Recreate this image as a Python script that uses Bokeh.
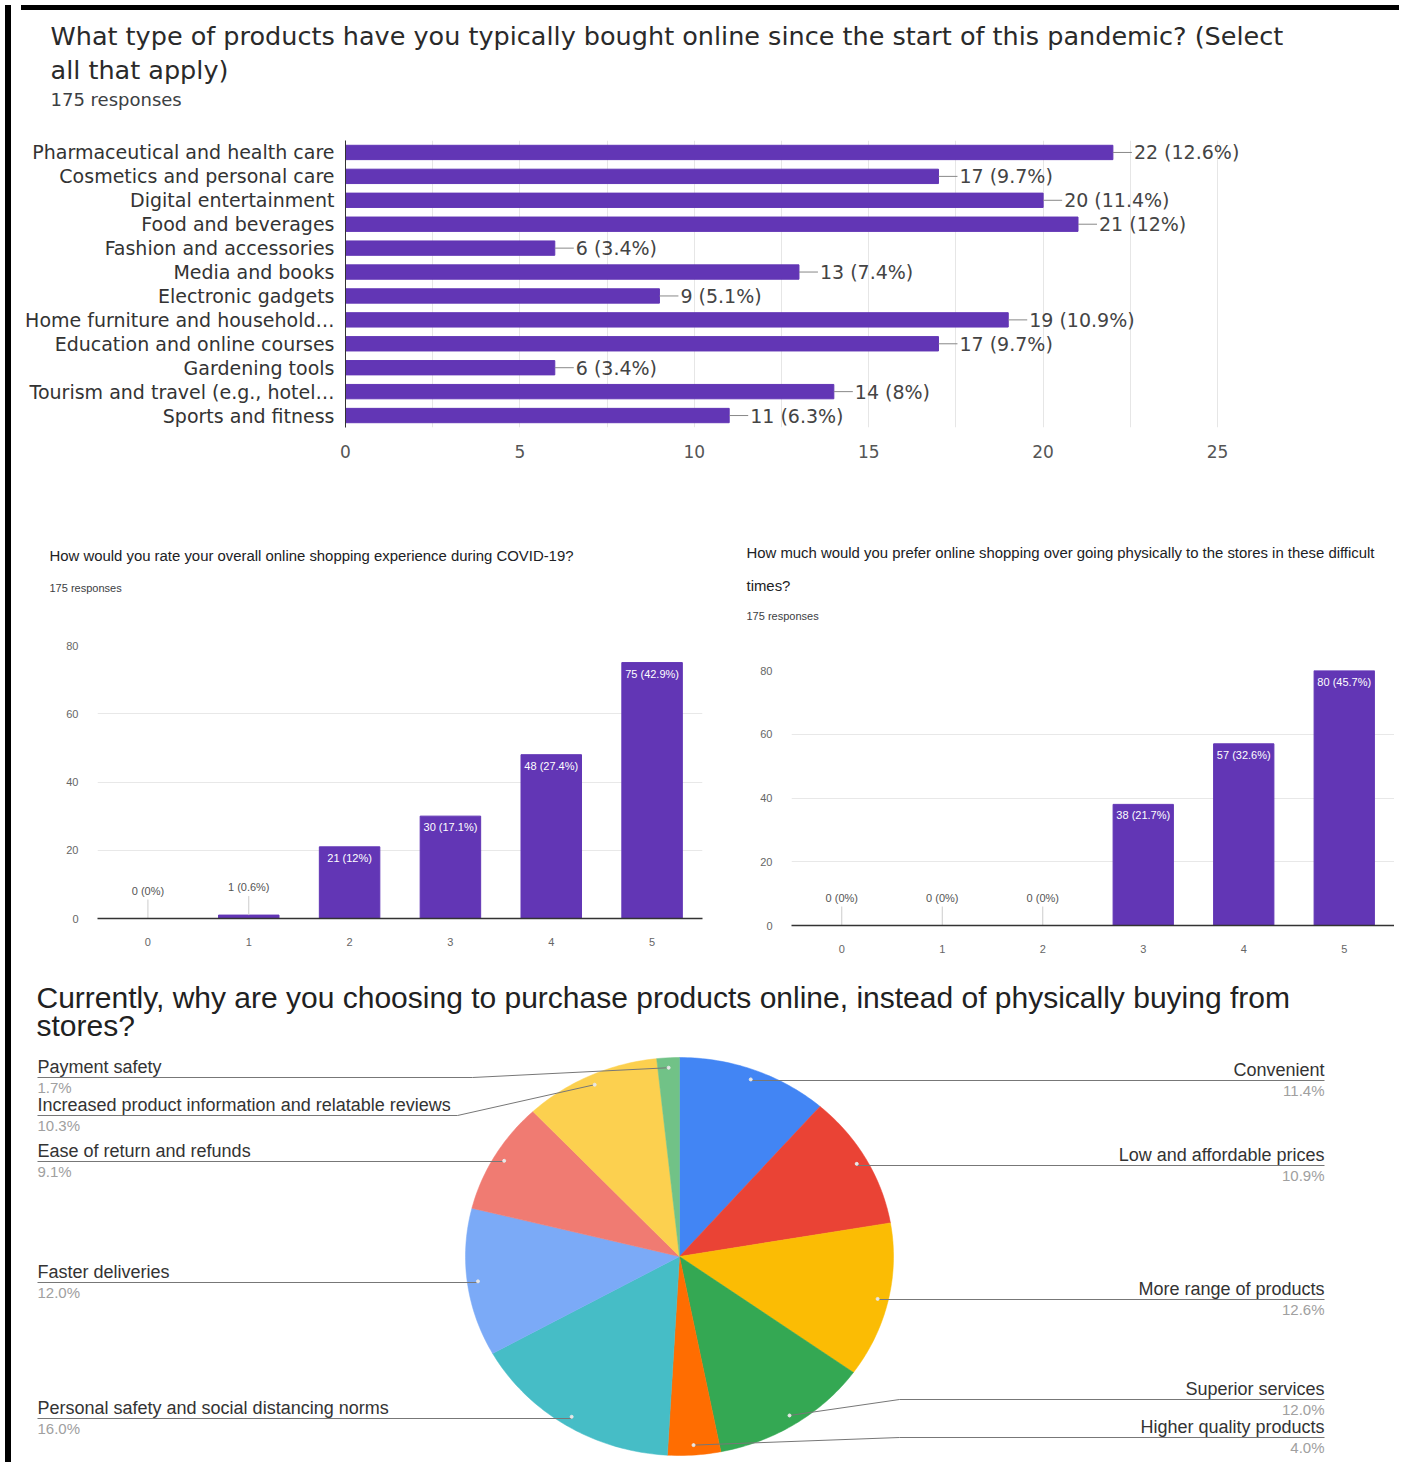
import numpy as np
from bokeh.plotting import figure
from bokeh.layouts import row, column
from bokeh.models import FactorRange, Range1d, FixedTicker, Div
from bokeh.core.properties import value
from bokeh.embed import file_html
from bokeh.resources import INLINE

# ---------------- data ----------------
product_types = [
    "Pharmaceutical and health care", "Cosmetics and personal care", "Digital entertainment",
    "Food and beverages", "Fashion and accessories", "Media and books", "Electronic gadgets",
    "Home furniture and household…", "Education and online courses", "Gardening tools",
    "Tourism and travel (e.g., hotel…", "Sports and fitness",
]
product_counts = [22, 17, 20, 21, 6, 13, 9, 19, 17, 6, 14, 11]
product_pcts = ["12.6%", "9.7%", "11.4%", "12%", "3.4%", "7.4%", "5.1%", "10.9%", "9.7%", "3.4%", "8%", "6.3%"]
product_ticks = [0, 5, 10, 15, 20, 25]

scale_labels = ["0", "1", "2", "3", "4", "5"]
rating_counts = [0, 1, 21, 30, 48, 75]
rating_pcts = ["0%", "0.6%", "12%", "17.1%", "27.4%", "42.9%"]
prefer_counts = [0, 0, 0, 38, 57, 80]
prefer_pcts = ["0%", "0%", "0%", "21.7%", "32.6%", "45.7%"]
count_ticks = [0, 20, 40, 60, 80]

reasons = [
    "Convenient", "Low and affordable prices", "More range of products", "Superior services",
    "Higher quality products", "Personal safety and social distancing norms", "Faster deliveries",
    "Ease of return and refunds", "Increased product information and relatable reviews", "Payment safety",
]
reason_pcts = [11.4, 10.9, 12.6, 12.0, 4.0, 16.0, 12.0, 9.1, 10.3, 1.7]
reason_colors = ["#4285f4", "#ea4335", "#fbbc04", "#34a853", "#ff6d01",
                 "#46bdc6", "#7baaf7", "#f07b72", "#fcd04f", "#71c287"]

# ---------------- styles ----------------
PURPLE = "#6236b5"
FONT_A = "DejaVu Sans"
FONT_B = "Liberation Sans"
FONT_C = "Liberation Sans"


def heading(width, height, lines):
    """lines: list of (x, y, text, size, color, font) in the heading's own pixel space"""
    h = figure(width=width, height=height, x_range=Range1d(0, width), y_range=Range1d(height, 0),
               output_backend="svg", toolbar_location=None, min_border=0,
               x_axis_type=None, y_axis_type=None, frame_align=False)
    h.outline_line_color = None
    h.grid.visible = False
    for x, y, t, s, c, f in lines:
        h.text(x=[x], y=[y], text=[t], text_baseline="middle", text_font=value(f),
               text_font_size=s, text_color=c)
    return h


# ---------------- top: horizontal bar chart ----------------
hA = heading(1378, 107, [
    (34, 20, "What type of products have you typically bought online since the start of this pandemic? (Select",
     "25.5px", "#2a2a2a", FONT_A),
    (34, 54, "all that apply)", "25.5px", "#2a2a2a", FONT_A),
    (34, 84, "175 responses", "18px", "#3c4043", FONT_A),
])

pA = figure(width=1378, height=385, y_range=FactorRange(factors=product_types[::-1]),
            x_range=Range1d(0, 29.5), output_backend="svg", toolbar_location=None,
            min_border_left=329, min_border_right=20, min_border_top=18, min_border_bottom=80,
            frame_align=False)
pA.outline_line_color = None
pA.hbar(y=product_types, right=product_counts, height=0.6, color=PURPLE)
pA.ray(x=product_counts, y=product_types, length=19, length_units="screen", angle=0,
       line_color="#888888", line_width=1)
pA.text(x=product_counts, y=product_types,
        text=[f"{c} ({p})" for c, p in zip(product_counts, product_pcts)],
        x_offset=21, text_baseline="middle", text_font=value(FONT_A),
        text_font_size="19px", text_color="#444444")
pA.xaxis.ticker = FixedTicker(ticks=product_ticks)
pA.xaxis.axis_line_color = None
pA.xaxis.major_tick_line_color = None
pA.xaxis.minor_tick_line_color = None
pA.xaxis.major_label_text_font = FONT_A
pA.xaxis.major_label_text_font_size = "17px"
pA.xaxis.major_label_text_color = "#555555"
pA.xaxis.major_label_standoff = 11
pA.yaxis.axis_line_color = "#333333"
pA.yaxis.major_tick_line_color = None
pA.yaxis.major_label_standoff = 5
pA.yaxis.major_label_text_font = FONT_A
pA.yaxis.major_label_text_font_size = "19px"
pA.yaxis.major_label_text_color = "#333333"
grid_steps = [t + d for t in product_ticks[:-1] for d in (0, 2.5)] + [product_ticks[-1]]
pA.xgrid.ticker = FixedTicker(ticks=grid_steps)
pA.xgrid.grid_line_color = "#e6e6e6"
pA.ygrid.grid_line_color = None


# ---------------- middle: vertical bar charts ----------------
def column_chart(width, height, bl, br, bt, bb, counts, pcts):
    p = figure(width=width, height=height, x_range=FactorRange(factors=scale_labels),
               y_range=Range1d(0, 80), output_backend="svg", toolbar_location=None,
               min_border_left=bl, min_border_right=br, min_border_top=bt, min_border_bottom=bb,
               frame_align=False)
    p.outline_line_color = None
    p.vbar(x=scale_labels, top=counts, width=0.6, color=PURPLE)
    inside = [c >= 10 for c in counts]
    labels = [f"{c} ({q})" for c, q in zip(counts, pcts)]
    xi = [x for x, m in zip(scale_labels, inside) if m]
    yi = [c for c, m in zip(counts, inside) if m]
    ti = [t for t, m in zip(labels, inside) if m]
    xo = [x for x, m in zip(scale_labels, inside) if not m]
    yo = [c for c, m in zip(counts, inside) if not m]
    to = [t for t, m in zip(labels, inside) if not m]
    p.text(x=xi, y=yi, text=ti, y_offset=5, text_align="center", text_baseline="top",
           text_font=value(FONT_B), text_font_size="11px", text_color="white")
    p.ray(x=xo, y=yo, length=19, length_units="screen", angle=np.pi / 2,
          line_color="#cccccc", line_width=1)
    p.text(x=xo, y=yo, text=to, y_offset=-28, text_align="center", text_baseline="middle",
           text_font=value(FONT_B), text_font_size="11px", text_color="#555555")
    p.yaxis.ticker = FixedTicker(ticks=count_ticks)
    p.yaxis.axis_line_color = None
    p.yaxis.major_tick_line_color = None
    p.yaxis.minor_tick_line_color = None
    p.yaxis.major_label_standoff = 13
    p.xaxis.axis_line_color = "#333333"
    p.xaxis.axis_line_width = 1.5
    p.xaxis.major_tick_line_color = None
    p.xaxis.major_label_standoff = 13
    for ax in (p.xaxis, p.yaxis):
        ax.major_label_text_font = FONT_B
        ax.major_label_text_font_size = "11px"
        ax.major_label_text_color = "#666666"
    p.ygrid.grid_line_color = "#e8e8e8"
    p.xgrid.grid_line_color = None
    return p


hB1 = heading(708, 115, [
    (33, 48, "How would you rate your overall online shopping experience during COVID-19?",
     "14.9px", "#202124", FONT_B),
    (33, 80, "175 responses", "11px", "#3c4043", FONT_B),
])
pB1 = column_chart(708, 340, 81, 22, 23, 44, rating_counts, rating_pcts)

hB2 = heading(670, 135, [
    (22, 45, "How much would you prefer online shopping over going physically to the stores in these difficult",
     "14.9px", "#202124", FONT_B),
    (22, 78, "times?", "14.9px", "#202124", FONT_B),
    (22, 108, "175 responses", "11px", "#3c4043", FONT_B),
])
pB2 = column_chart(670, 320, 67, 0, 28, 37, prefer_counts, prefer_pcts)

# ---------------- bottom: pie chart ----------------
pC = figure(width=1378, height=505, x_range=Range1d(14, 1392), y_range=Range1d(1465, 960),
            output_backend="svg", toolbar_location=None, min_border=0,
            x_axis_type=None, y_axis_type=None, frame_align=False)
pC.outline_line_color = None
pC.grid.visible = False

CX, CY, RX, RY = 677, 1254, 214, 199
frac = np.array(reason_pcts) / sum(reason_pcts)
ends = np.cumsum(frac) * 2 * np.pi
starts = ends - frac * 2 * np.pi
xs, ys = [], []
for a0, a1 in zip(starts, ends):
    n = max(4, int((a1 - a0) / (2 * np.pi) * 360))
    t = np.linspace(a0, a1, n)
    xs.append([CX] + list(CX + RX * np.sin(t)))
    ys.append([CY] + list(CY - RY * np.cos(t)))
pC.patches(xs, ys, fill_color=reason_colors, line_color=reason_colors, line_width=0.5)

# label layout (positions only)
label_side = ["right"] * 5 + ["left"] * 5
label_y = [1067, 1152, 1286, 1386, 1424, 1405, 1269, 1148, 1102, 1064]
elbow_x = [None, None, None, 897, 897, None, None, None, 455, 470]
mid = (starts + ends) / 2
ax_ = CX + 0.95 * RX * np.sin(mid)
ay_ = CY - 0.95 * RY * np.cos(mid)
lx, ly = [], []
for i in range(len(reasons)):
    tx = 35 if label_side[i] == "left" else 1322
    ex = ax_[i] if elbow_x[i] is None else elbow_x[i]
    yline = label_y[i] + 11
    lx.append([tx, ex, ax_[i]])
    ly.append([yline, yline, ay_[i]])
pC.multi_line(lx, ly, line_color="#777777", line_width=1)
pC.scatter(ax_, ay_, size=3, color="#e8e8e8")

for side in ("left", "right"):
    idx = [i for i in range(len(reasons)) if label_side[i] == side]
    tx = 35 if side == "left" else 1322
    pC.text(x=[tx] * len(idx), y=[label_y[i] for i in idx], text=[reasons[i] for i in idx],
            text_align=side, text_baseline="middle", text_font=value(FONT_C),
            text_font_size="18px", text_color="#333333")
    pC.text(x=[tx] * len(idx), y=[label_y[i] + 21 for i in idx],
            text=[f"{reason_pcts[i]:.1f}%" for i in idx],
            text_align=side, text_baseline="middle", text_font=value(FONT_C),
            text_font_size="15px", text_color="#a0a0a0")

pC.text(x=[34, 34], y=[995, 1023],
        text=["Currently, why are you choosing to purchase products online, instead of physically buying from",
              "stores?"],
        text_baseline="middle", text_font=value(FONT_C), text_font_size="30px", text_color="#212121")

# ---------------- frame / layout ----------------
left_bar = Div(width=6, height=1457, styles={"background-color": "#000000"})
right_bar = Div(width=3, height=1457, styles={"background-color": "#000000"})
top_bar = Div(width=1378, height=5, styles={"background-color": "#000000"})
layout = row(left_bar,
             column(top_bar, hA, pA,
                    row(column(hB1, pB1), column(hB2, pB2)),
                    pC),
             right_bar)

open("out.html", "w").write(file_html(layout, INLINE))
